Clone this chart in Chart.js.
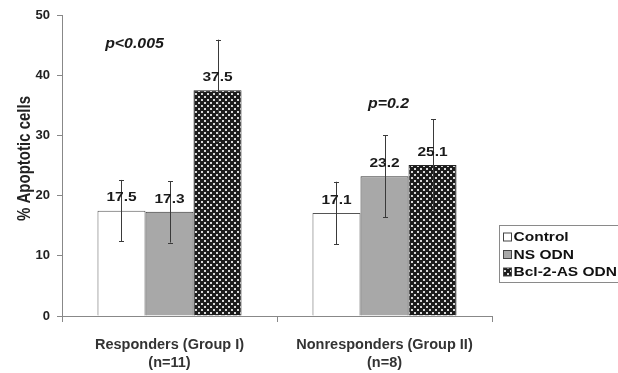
<!DOCTYPE html>
<html><head><meta charset="utf-8">
<script src="https://cdn.jsdelivr.net/npm/chart.js@4.4.1/dist/chart.umd.min.js"></script>
<style>html,body{margin:0;padding:0;background:#fff;}#wrap{width:618px;height:373px;}</style>
</head><body><div id="wrap"><canvas id="c" width="618" height="373"></canvas></div>
<script>
const categories = [['Responders (Group I)', '(n=11)'], ['Nonresponders (Group II)', '(n=8)']];
const seriesNames = ['Control', 'NS ODN', 'Bcl-2-AS ODN'];
const controlValues = [17.5, 17.1];
const nsValues = [17.3, 23.2];
const bclValues = [37.5, 25.1];
const controlErr = [5.1, 5.2];
const nsErr = [5.1, 6.8];
const bclErr = [8.4, 7.6];
const pTexts = ['p<0.005', 'p=0.2'];
const pLevels = [45.2, 35.2];
const yTicks = [0, 10, 20, 30, 40, 50];
const yTitle = '% Apoptotic cells';

const FONT = '"Liberation Sans", Arial, sans-serif';
const SX = 1.15; // horizontal text stretch seen in the reference

function makePattern() {
  const t = document.createElement('canvas');
  t.width = 6; t.height = 6;
  const g = t.getContext('2d');
  g.fillStyle = '#1c1c1c'; g.fillRect(0, 0, 6, 6);
  g.fillStyle = '#d8d8d8';
  g.fillRect(0, 0, 2, 2);
  g.fillRect(3, 3, 2, 2);
  return document.getElementById('c').getContext('2d').createPattern(t, 'repeat');
}
const pat = makePattern();
const fills = ['#ffffff', '#a8a8a8', pat];
const errs = [controlErr, nsErr, bclErr];

function stretchedText(ctx, text, x, y) {
  ctx.save();
  ctx.translate(x, y);
  ctx.scale(SX, 1);
  ctx.fillText(text, 0, 0);
  ctx.restore();
}

const extras = {
  id: 'extras',
  afterDatasetsDraw(chart) {
    const ctx = chart.ctx;
    const ys = chart.scales.y;
    const ca = chart.chartArea;
    ctx.save();
    // error bars
    chart.data.datasets.forEach((ds, di) => {
      const meta = chart.getDatasetMeta(di);
      meta.data.forEach((bar, i) => {
        const v = ds.data[i], e = errs[di][i];
        const yt = ys.getPixelForValue(v + e), yb = ys.getPixelForValue(v - e);
        ctx.strokeStyle = '#3a3a3a'; ctx.lineWidth = 1;
        const x = Math.round(bar.x) + 0.5;
        ctx.beginPath();
        ctx.moveTo(x, yt); ctx.lineTo(x, yb);
        ctx.moveTo(x - 2.5, Math.round(yt) + 0.5); ctx.lineTo(x + 2.5, Math.round(yt) + 0.5);
        ctx.moveTo(x - 2.5, Math.round(yb) + 0.5); ctx.lineTo(x + 2.5, Math.round(yb) + 0.5);
        ctx.stroke();
      });
    });
    // value labels
    ctx.font = 'bold 13.5px ' + FONT;
    ctx.fillStyle = '#1a1a1a';
    ctx.textAlign = 'center'; ctx.textBaseline = 'middle';
    chart.data.datasets.forEach((ds, di) => {
      const meta = chart.getDatasetMeta(di);
      meta.data.forEach((bar, i) => {
        stretchedText(ctx, ds.data[i].toFixed(1), bar.x, bar.y - 13);
      });
    });
    // p values
    ctx.font = 'italic bold 13.8px ' + FONT;
    pTexts.forEach((t, i) => {
      const m0 = chart.getDatasetMeta(0).data[i];
      const m1 = chart.getDatasetMeta(1).data[i];
      const cx = i === 0 ? (m0.x + m1.x) / 2 - 11 : m1.x + 4;
      stretchedText(ctx, t, cx, ys.getPixelForValue(pLevels[i]));
    });
    // y title
    ctx.save();
    ctx.font = 'bold 15px ' + FONT;
    ctx.fillStyle = '#222';
    ctx.textBaseline = 'middle';
    ctx.translate(25, (ca.top + ca.bottom) / 2 - 7);
    ctx.scale(1.2, 1);
    ctx.rotate(-Math.PI / 2);
    ctx.fillText(yTitle, 0, 0);
    ctx.restore();
    // legend
    const lx = ca.right + 7.5, ly = ca.top + 210.5;
    ctx.strokeStyle = '#8a8a8a'; ctx.lineWidth = 1;
    ctx.strokeRect(lx, ly, 140, 57);
    ctx.font = 'bold 13.5px ' + FONT;
    ctx.textAlign = 'left';
    seriesNames.forEach((n, i) => {
      const cy = ly + 11.5 + i * 17.5;
      ctx.fillStyle = fills[i];
      ctx.fillRect(lx + 4, cy - 4, 8, 8);
      ctx.strokeStyle = '#444';
      ctx.strokeRect(lx + 4, cy - 4, 8, 8);
      ctx.fillStyle = '#111';
      stretchedText(ctx, n, lx + 14, cy + 0.5);
    });
    ctx.restore();
  }
};

new Chart(document.getElementById('c'), {
  type: 'bar',
  data: {
    labels: categories,
    datasets: [
      { label: seriesNames[0], data: controlValues, backgroundColor: fills[0], borderColor: '#555', borderWidth: 1 },
      { label: seriesNames[1], data: nsValues, backgroundColor: fills[1], borderColor: '#333', borderWidth: 1 },
      { label: seriesNames[2], data: bclValues, backgroundColor: fills[2], borderColor: '#222', borderWidth: 1 }
    ]
  },
  options: {
    responsive: false,
    animation: false,
    devicePixelRatio: 1,
    layout: { padding: { left: 0, right: 126, top: 15, bottom: 0 } },
    plugins: { legend: { display: false }, tooltip: { enabled: false } },
    datasets: { bar: { categoryPercentage: 0.67, barPercentage: 1.0 } },
    scales: {
      x: {
        afterFit(s) { s.height = 57; },
        grid: { display: true, drawOnChartArea: false, drawTicks: true, tickLength: 6, color: '#888', offset: true },
        border: { color: '#888', width: 1 },
        ticks: { color: '#333', padding: 14, font: { family: FONT, size: 14.5, weight: 'bold', lineHeight: 1.25 } }
      },
      y: {
        min: 0, max: 50,
        afterFit(s) { s.width = 62; },
        afterBuildTicks(s) { s.ticks = yTicks.map(v => ({ value: v })); },
        grid: { display: true, drawOnChartArea: false, drawTicks: true, tickLength: 5, color: '#888' },
        border: { color: '#888', width: 1 },
        ticks: { color: '#222', padding: 7, font: { family: FONT, size: 13, weight: 'bold' } },
        title: { display: false }
      }
    }
  },
  plugins: [extras]
});
</script></body></html>
